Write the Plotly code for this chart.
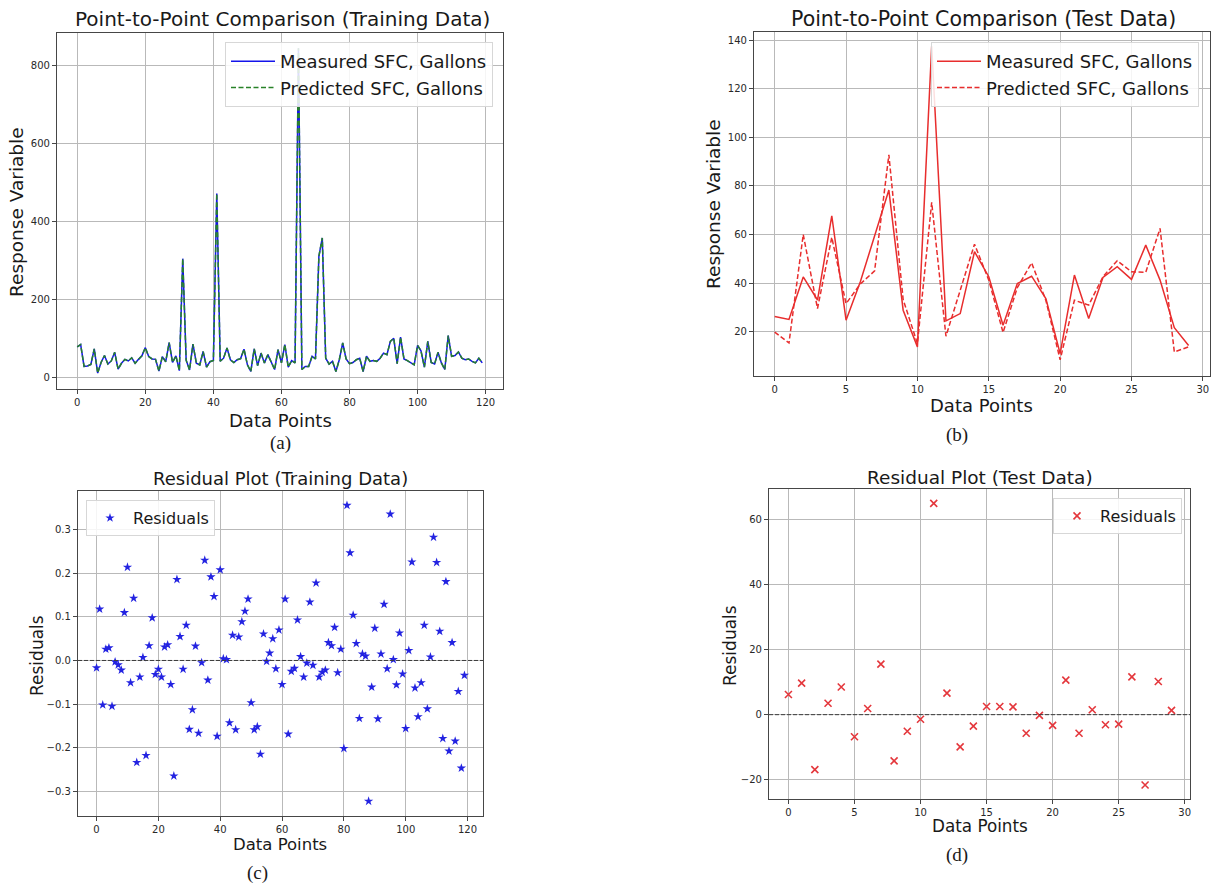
import plotly.graph_objects as go

# ---------------- data ----------------
train_idx = list(range(120))
measured_train = [
    78, 84, 28, 29, 33, 73, 11, 38, 56, 34,
    42, 64, 21, 36, 46, 42, 50, 36, 46, 55,
    76, 53, 47, 46, 16, 53, 40, 89, 38, 55,
    17, 304, 44, 19, 85, 36, 32, 66, 26, 40,
    43, 471, 41, 49, 75, 45, 38, 45, 48, 72,
    32, 15, 73, 30, 62, 37, 58, 37, 20, 71,
    37, 84, 26, 43, 37, 843, 20, 28, 28, 54,
    47, 310, 357, 49, 34, 41, 15, 45, 88, 47,
    35, 38, 45, 49, 15, 54, 41, 43, 41, 49,
    62, 58, 92, 100, 35, 103, 47, 43, 38, 32,
    82, 68, 26, 92, 38, 34, 64, 37, 20, 107,
    54, 56, 65, 49, 45, 47, 41, 37, 49, 37,
]
predicted_train = [
    78, 84, 28, 29, 33, 73, 11, 38, 56, 34,
    42, 64, 21, 36, 46, 42, 50, 36, 46, 55,
    76, 53, 47, 46, 16, 53, 40, 89, 38, 55,
    17, 304, 44, 19, 85, 36, 32, 66, 26, 40,
    43, 471, 41, 49, 75, 45, 38, 45, 48, 72,
    32, 15, 73, 30, 62, 37, 58, 37, 20, 71,
    37, 84, 26, 43, 37, 843, 20, 28, 28, 54,
    47, 310, 357, 49, 34, 41, 15, 45, 88, 47,
    35, 38, 45, 49, 15, 54, 41, 43, 41, 49,
    62, 58, 92, 100, 35, 103, 47, 43, 38, 32,
    82, 68, 26, 92, 38, 34, 64, 37, 20, 107,
    54, 56, 65, 49, 45, 47, 41, 37, 49, 37,
]

test_idx = list(range(30))
measured_test = [
    26.2, 25.0, 42.5, 33.0, 67.7, 24.7, 40.5, 59.0, 78.3, 28.8,
    13.7, 137.5, 24.4, 27.4, 52.9, 42.6, 22.6, 39.8, 42.8, 33.6,
    10.9, 43.3, 25.4, 42.3, 46.7, 41.5, 55.6, 41.2, 21.6, 14.3,
]
predicted_test = [
    19.8, 15.3, 60.0, 29.5, 58.8, 31.5, 39.6, 45.0, 92.8, 33.2,
    15.1, 73.2, 18.1, 37.0, 56.0, 41.2, 19.6, 38.1, 48.3, 32.9,
    8.4, 32.9, 30.9, 42.6, 49.2, 44.6, 44.4, 62.5, 11.6, 13.7,
]

residuals_train = [
    -0.017, 0.118, -0.102, 0.026, 0.029, -0.105, -0.003, -0.010, -0.022, 0.110,
    0.214, -0.051, 0.143, -0.234, -0.038, 0.007, -0.218, 0.034, 0.098, -0.032,
    -0.020, -0.038, 0.031, 0.036, -0.055, -0.265, 0.186, 0.055, -0.020, 0.081,
    -0.158, -0.113, 0.033, -0.167, -0.005, 0.230, -0.045, 0.192, 0.147, -0.174,
    0.208, 0.004, 0.002, -0.143, 0.058, -0.159, 0.054, 0.089, 0.113, 0.141,
    -0.097, -0.159, -0.152, -0.215, 0.061, -0.002, 0.017, 0.050, -0.019, 0.070,
    -0.055, 0.141, -0.169, -0.025, -0.018, 0.093, 0.009, -0.038, -0.006, 0.134,
    -0.011, 0.178, -0.038, -0.027, -0.022, 0.041, 0.034, 0.076, -0.028, 0.026,
    -0.202, 0.356, 0.247, 0.104, 0.039, -0.133, 0.015, 0.010, -0.323, -0.061,
    0.074, -0.134, 0.015, 0.129, -0.019, 0.336, 0.002, -0.056, 0.063, -0.031,
    -0.156, 0.023, 0.226, -0.063, -0.129, -0.051, 0.081, -0.111, 0.008, 0.283,
    0.225, 0.067, -0.179, 0.181, -0.208, 0.041, -0.185, -0.071, -0.247, -0.034,
]
residuals_test = [
    6.2, 9.7, -16.9, 3.5, 8.5, -6.8, 1.9, 15.5, -14.2, -5.1,
    -1.4, 64.9, 6.6, -9.9, -3.5, 2.5, 2.5, 2.4, -5.7, -0.2,
    -3.3, 10.6, -5.7, 1.5, -3.1, -2.9, 11.6, -21.6, 10.2, 1.3,
]

# ---------------- layout helpers ----------------
W, H = 1219, 885
FONT = "DejaVu Sans"
TXT = "rgb(25,25,25)"


def fx(p):
    return p / W


def fy(p):
    return 1 - p / H


def axis(domain, rng, tickvals, anchor, tickfont=10, tickformat=None):
    d = dict(
        domain=domain, range=rng, tickvals=tickvals, anchor=anchor,
        showgrid=True, gridcolor="rgb(185,185,185)", gridwidth=1,
        zeroline=False, showline=True, mirror=True,
        linecolor="rgb(70,70,70)", linewidth=1.2,
        ticks="outside", ticklen=4, tickwidth=1, tickcolor="rgb(70,70,70)",
        tickfont=dict(family=FONT, size=tickfont, color="rgb(40,40,40)"),
        fixedrange=True,
    )
    if tickformat:
        d["tickformat"] = tickformat
    return d


DASH = "5px,2.5px"
fig = go.Figure()

# (a) training comparison
fig.add_trace(go.Scatter(x=train_idx, y=measured_train, mode="lines",
                         name="Measured SFC, Gallons",
                         line=dict(color="rgb(20,20,235)", width=1.5),
                         xaxis="x", yaxis="y", legend="legend"))
fig.add_trace(go.Scatter(x=train_idx, y=predicted_train, mode="lines",
                         name="Predicted SFC, Gallons",
                         line=dict(color="rgb(40,130,40)", width=1.5, dash=DASH),
                         xaxis="x", yaxis="y", legend="legend"))

# (b) test comparison
fig.add_trace(go.Scatter(x=test_idx, y=measured_test, mode="lines",
                         name="Measured SFC, Gallons",
                         line=dict(color="rgb(232,45,45)", width=1.5),
                         xaxis="x2", yaxis="y2", legend="legend2"))
fig.add_trace(go.Scatter(x=test_idx, y=predicted_test, mode="lines",
                         name="Predicted SFC, Gallons",
                         line=dict(color="rgb(232,45,45)", width=1.5, dash=DASH),
                         xaxis="x2", yaxis="y2", legend="legend2"))

# (c) training residuals
fig.add_trace(go.Scatter(x=train_idx, y=residuals_train, mode="markers",
                         name="Residuals",
                         marker=dict(symbol="star", size=7, color="rgb(35,35,225)",
                                     line=dict(width=0)),
                         xaxis="x3", yaxis="y3", legend="legend3"))

# (d) test residuals
fig.add_trace(go.Scatter(x=test_idx, y=residuals_test, mode="markers",
                         name="Residuals",
                         marker=dict(symbol="x-thin-open", size=7, color="rgb(228,55,60)",
                                     line=dict(width=1.6, color="rgb(228,55,60)")),
                         xaxis="x4", yaxis="y4", legend="legend4"))

dom_a = ([fx(57), fx(503)], [fy(389), fy(33)])
dom_b = ([fx(754), fx(1210)], [fy(376), fy(32)])
dom_c = ([fx(78), fx(483)], [fy(816), fy(491)])
dom_d = ([fx(769), fx(1190)], [fy(799), fy(489)])

legend_common = dict(
    bgcolor="rgba(255,255,255,0.85)", bordercolor="rgb(215,215,215)", borderwidth=1,
    itemclick=False, itemdoubleclick=False,
)

fig.update_layout(
    width=W, height=H,
    margin=dict(l=0, r=0, t=0, b=0),
    paper_bgcolor="white", plot_bgcolor="white",
    showlegend=True,
    xaxis=axis(dom_a[0], [-5.95, 125.1], [0, 20, 40, 60, 80, 100, 120], "y"),
    yaxis=axis(dom_a[1], [-29.9, 882], [0, 200, 400, 600, 800], "x"),
    xaxis2=axis(dom_b[0], [-1.45, 30.5], [0, 5, 10, 15, 20, 25, 30], "y2"),
    yaxis2=axis(dom_b[1], [1.7, 143.4], [20, 40, 60, 80, 100, 120, 140], "x2"),
    xaxis3=axis(dom_c[0], [-6.0, 125.0], [0, 20, 40, 60, 80, 100, 120], "y3"),
    yaxis3=axis(dom_c[1], [-0.357, 0.389], [-0.3, -0.2, -0.1, 0.0, 0.1, 0.2, 0.3], "x3",
                tickformat=".1f"),
    xaxis4=axis(dom_d[0], [-1.47, 30.4], [0, 5, 10, 15, 20, 25, 30], "y4"),
    yaxis4=axis(dom_d[1], [-25.9, 69.3], [-20, 0, 20, 40, 60], "x4"),
    legend=dict(x=fx(493), y=fy(42), xanchor="right", yanchor="top", itemwidth=44,
                font=dict(family=FONT, size=18, color=TXT), **legend_common),
    legend2=dict(x=fx(1199), y=fy(42), xanchor="right", yanchor="top", itemwidth=44,
                 font=dict(family=FONT, size=18, color=TXT), **legend_common),
    legend3=dict(x=fx(86), y=fy(500), xanchor="left", yanchor="top", itemwidth=36,
                 font=dict(family=FONT, size=16, color=TXT), **legend_common),
    legend4=dict(x=fx(1182), y=fy(498), xanchor="right", yanchor="top", itemwidth=36,
                 font=dict(family=FONT, size=16, color=TXT), **legend_common),
)

# dashed zero lines for residual plots
for xr, yr in (("x3 domain", "y3"), ("x4 domain", "y4")):
    fig.add_shape(type="line", xref=xr, yref=yr, x0=0, x1=1, y0=0, y1=0,
                  line=dict(color="rgb(60,60,60)", width=1, dash="4px,2px"))


def text(s, x, y, size, angle=0, family=FONT):
    fig.add_annotation(text=s, x=fx(x), y=fy(y), xref="paper", yref="paper",
                       xanchor="center", yanchor="middle", showarrow=False,
                       textangle=angle,
                       font=dict(family=family, size=size, color=TXT))


# titles
text("Point-to-Point Comparison (Training Data)", 282, 19, 20)
text("Point-to-Point Comparison (Test Data)", 983, 19, 20.5)
text("Residual Plot (Training Data)", 280, 478, 18)
text("Residual Plot (Test Data)", 980, 477, 18.5)

# axis labels
text("Data Points", 280, 420, 18)
text("Response Variable", 16, 212, 18.5, angle=-90)
text("Data Points", 982, 405, 18)
text("Response Variable", 713, 204, 18.5, angle=-90)
text("Data Points", 280, 844, 16.5)
text("Residuals", 37, 656, 17, angle=-90)
text("Data Points", 980, 826, 16.8)
text("Residuals", 730, 646, 17, angle=-90)

# captions
SERIF = "Liberation Serif"
text("(a)", 280, 443, 19, family=SERIF)
text("(b)", 957, 435, 19, family=SERIF)
text("(c)", 257, 873, 19, family=SERIF)
text("(d)", 957, 855, 19, family=SERIF)

fig.write_html("out.html")
